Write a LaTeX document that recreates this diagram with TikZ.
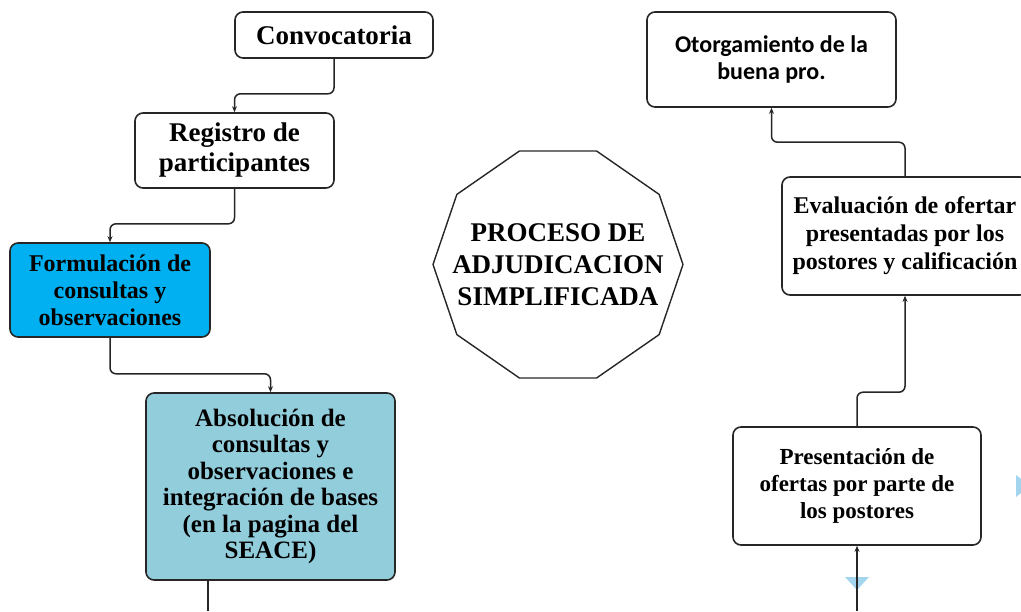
\documentclass[tikz,border=0pt]{standalone}
\usepackage{fontspec}
\setmainfont{Liberation Serif}
\newfontfamily\calfont{Carlito}
\usetikzlibrary{arrows.meta}
\definecolor{cyanbox}{HTML}{00B0F0}
\definecolor{lightbox}{HTML}{92CDDC}
\definecolor{tricol}{HTML}{A3D6EE}
\tikzset{
  box/.style={draw=black!85, line width=1.6pt, rounded corners=8pt, align=center, inner sep=0pt, fill=white, font=\bfseries},
  conn/.style={draw=black!85, line width=1.5pt, rounded corners=6pt, -{Stealth[length=6pt,width=5pt]}},
  plain/.style={draw=black!85, line width=1.5pt},
  tri/.style={fill=tricol}
}
\begin{document}
\begin{tikzpicture}[x=1pt,y=-1pt]
\useasboundingbox (0,0) rectangle (1021,611);
\clip (0,0) rectangle (1021,611);

% nodes
\node[box, minimum width=198pt, minimum height=46pt, font=\bfseries\fontsize{27}{30}\selectfont] (conv) at (334,35) {Convocatoria};
\node[box, minimum width=199pt, minimum height=75pt, font=\bfseries\fontsize{27}{30}\selectfont] (reg) at (234.5,150.5) {Registro de\\participantes};
\node[box, fill=cyanbox, minimum width=200pt, minimum height=94pt, font=\bfseries\fontsize{24}{27}\selectfont] (form) at (110,290) {Formulación de\\consultas y\\observaciones};
\node[box, fill=lightbox, minimum width=249pt, minimum height=187pt, font=\bfseries\fontsize{25}{26.5}\selectfont] (abs) at (270.5,486.5) {Absolución de\\consultas y\\observaciones e\\integración de bases\\(en la pagina del\\SEACE)};

\coordinate (dec) at (558,264.5);
\draw[draw=black!85, line width=1.4pt] (dec) +(0:125 and 119.3) -- +(36:125 and 119.3) -- +(72:125 and 119.3) -- +(108:125 and 119.3) -- +(144:125 and 119.3) -- +(180:125 and 119.3) -- +(216:125 and 119.3) -- +(252:125 and 119.3) -- +(288:125 and 119.3) -- +(324:125 and 119.3) -- cycle;
\node[align=center, inner sep=0pt, font=\bfseries\fontsize{27}{32}\selectfont] (title) at (dec) {PROCESO DE\\ADJUDICACION\\SIMPLIFICADA};

\node[box, minimum width=249pt, minimum height=95pt, font=\calfont\bfseries\fontsize{24}{27}\selectfont] (otor) at (771.5,59.5) {Otorgamiento de la\\buena pro.};
\node[box, minimum width=246pt, minimum height=118pt, font=\bfseries\fontsize{24}{28}\selectfont] (eval) at (905,236) {Evaluación de ofertar\\presentadas por los\\postores y calificación};
\node[box, minimum width=248pt, minimum height=118pt, font=\bfseries\fontsize{23}{27}\selectfont] (pres) at (857,486) {Presentación de\\ofertas por parte de\\los postores};

% decorative light blue marks
\fill[tri] (845,577) -- (869,577) -- (857,590) -- cycle;
\fill[tri] (1016,475) -- (1030,486) -- (1016,497) -- cycle;

% connectors
\coordinate (absend) at (208,611);
\coordinate (presin) at (857,611);
\draw[conn] (conv.south) -- ++(0,35) -| (reg.north);
\draw[conn] (reg.south) -- ++(0,35) -| (form.north);
\draw[conn] (form.south) -- ++(0,36) -| (abs.north);
\draw[plain] (absend |- abs.south) -- (absend);
\draw[conn] (presin) -- (pres.south);
\draw[conn] (pres.north) -- ++(0,-34) -| (eval.south);
\draw[conn] (eval.north) -- ++(0,-34) -| (otor.south);
\end{tikzpicture}
\end{document}
